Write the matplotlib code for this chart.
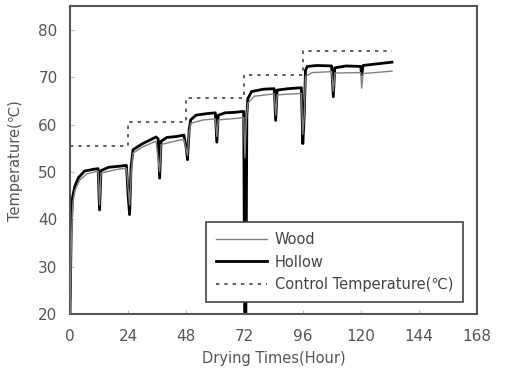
import matplotlib
matplotlib.use("Agg")
import matplotlib.pyplot as plt

plt.rcParams['font.family'] = ['DejaVu Sans', 'Noto Sans CJK KR']

# 건조 시간(Hour)과 온도
hollow_t = [0, 0.5, 1.0, 2, 3.5, 6, 10, 11.6, 12.2, 12.8, 16, 20, 23.3, 24.0, 24.6, 25.2,
            26, 30, 34, 35.5, 36.4, 37, 37.6, 40, 44, 47, 48.0, 48.5, 49.2, 49.8,
            52, 56, 60, 60.6, 61.2, 64, 68, 71.7, 72.1, 72.6, 73.0, 73.4,
            75, 80, 84.3, 84.9, 85.5, 90, 95.5, 96.1, 96.7, 97.2,
            98, 102, 108, 108.7, 109.3, 114, 120, 120.4, 121, 126, 132.9]
hollow_v = [20, 38, 44.5, 47, 48.8, 50.2, 50.6, 50.7, 42, 50.3, 51, 51.2, 51.4, 45, 41, 51,
            54.7, 56, 57, 57.4, 57, 48.7, 56.5, 57.3, 57.5, 57.8, 55, 52.6, 59, 61,
            62, 62.3, 62.5, 56.3, 62, 62.5, 62.6, 62.8, 20, 20, 62, 65.5,
            67, 67.5, 67.6, 60.9, 67.3, 67.6, 67.8, 56, 62, 71.5,
            72.3, 72.5, 72.4, 65.9, 72, 72.4, 72.3, 70.5, 72.5, 72.8, 73.2]

wood_t = [0, 0.6, 1.2, 2, 4, 7, 11.6, 12.2, 12.8, 20, 23.3, 24.6, 25.3,
          26, 30, 35.5, 37, 37.6, 44, 47, 48.5, 49.2, 49.8, 55, 60, 60.6, 61.2,
          68, 71.7, 72.2, 72.8, 73.4, 76, 84.3, 84.9, 85.5, 95.5, 96.1, 96.7, 97.2,
          100, 108, 108.7, 109.3, 120, 120.4, 121, 132.9]
wood_v = [20, 36, 43.5, 46, 48.3, 49.6, 50.2, 43, 49.8, 50.6, 50.8, 43, 50,
          54, 55.3, 56.5, 50, 55.8, 56.6, 56.9, 53.5, 58.5, 60.3, 61, 61.2, 57.5, 61,
          61.3, 61.5, 53, 61, 64.5, 66, 66.5, 62, 66.3, 66.6, 58, 62, 70.2,
          71, 71.2, 67, 70.9, 71, 67.7, 70.8, 71.3]

control_t = [0, 24, 48, 72, 96, 133]
control_v = [55.4, 60.5, 65.6, 70.4, 75.5, 75.5]

fig = plt.figure(figsize=(5.17, 3.71), dpi=100)
ax = fig.add_axes([0.1354, 0.1536, 0.7872, 0.8294])

ax.plot(wood_t, wood_v, color='#808080', linewidth=1.0, label='Wood', zorder=3)
ax.plot(hollow_t, hollow_v, color='black', linewidth=2.0, label='Hollow', zorder=2)
ax.plot(control_t, control_v, color='#444444', linewidth=1.2, linestyle=(0, (2, 3)),
        drawstyle='steps-post', label='Control Temperature(℃)', zorder=1)

ax.set_xlim(0, 168)
ax.set_ylim(20, 85)
ax.set_xticks(range(0, 169, 24))
ax.set_yticks(range(20, 81, 10))
ax.tick_params(direction='in', length=3, color='#bbbbbb', labelcolor='#555555',
               labelsize=11)
ax.tick_params(axis='x', pad=11)
ax.tick_params(axis='y', pad=9)
for s in ax.spines.values():
    s.set_color('#555555')
    s.set_linewidth(1.5)

ax.set_xlabel('Drying Times(Hour)', color='#555555', fontsize=10.5, labelpad=5)
ax.set_ylabel('Temperature(℃)', color='#555555', fontsize=10.5, labelpad=11)

leg = ax.legend(loc='lower right', bbox_to_anchor=(0.966, 0.039), fontsize=10.5,
                fancybox=False, framealpha=1, edgecolor='#444444',
                handlelength=3.5, handletextpad=0.5, borderpad=0.7, labelspacing=0.5,
                borderaxespad=0)
leg.get_frame().set_linewidth(1.2)
for t in leg.get_texts():
    t.set_color('#444444')

fig.savefig('out.png', dpi=100)
